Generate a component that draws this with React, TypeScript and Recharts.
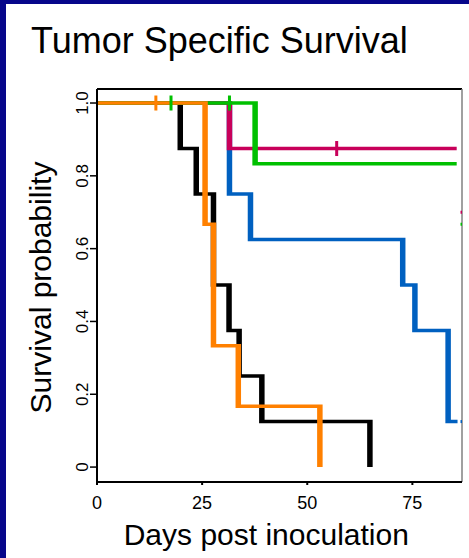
import React from 'react';
import { ComposedChart, Line, Scatter, XAxis, YAxis, ReferenceLine } from 'recharts';

// Axis extents and ticks
const X_MAX = 86.8;
const Y_MIN = -0.041;
const Y_MAX = 1.0385;
const xTicks = [0, 25, 50, 75];
const yTicks = [0, 0.2, 0.4, 0.6, 0.8, 1];
const yTickLabels = ['0', '0.2', '0.4', '0.6', '0.8', '1.0'];

// Kaplan-Meier steps: t = days post inoculation, s = survival probability
const blackCurve = [
  { t: 0, s: 1 },
  { t: 19.8, s: 0.875 },
  { t: 23.6, s: 0.75 },
  { t: 27.7, s: 0.5 },
  { t: 31.4, s: 0.375 },
  { t: 33.8, s: 0.25 },
  { t: 39.2, s: 0.125 },
  { t: 64.9, s: 0 },
];
const blueCurve = [
  { t: 0, s: 1 },
  { t: 31.5, s: 0.75 },
  { t: 36.5, s: 0.625 },
  { t: 72.7, s: 0.5 },
  { t: 75.6, s: 0.375 },
  { t: 83.5, s: 0.125 },
  { t: 85.5, s: 0.125 },
];
const magentaCurve = [
  { t: 0, s: 1 },
  { t: 31.5, s: 0.875 },
  { t: 85.3, s: 0.875 },
];
const greenCurve = [
  { t: 0, s: 1 },
  { t: 37.6, s: 0.833 },
  { t: 85.3, s: 0.833 },
];
const orangeCurve = [
  { t: 0, s: 1 },
  { t: 25.7, s: 0.667 },
  { t: 27.7, s: 0.333 },
  { t: 33.6, s: 0.167 },
  { t: 53.0, s: 0 },
];

// Censoring ticks
const orangeCensor = [{ t: 14.0, s: 1 }];
const greenCensor = [
  { t: 17.6, s: 1 },
  { t: 31.5, s: 1 },
];
const magentaCensor = [{ t: 57.0, s: 0.875 }];

// Small marks sitting on the right frame
const edgeMarks = [
  { t: X_MAX, s: 0.7, c: '#c8005a' },
  { t: X_MAX, s: 0.667, c: '#00c000' },
  { t: X_MAX, s: 0.125, c: '#0060c0' },
];

const COLORS = {
  black: '#000000',
  blue: '#0060c0',
  magenta: '#c8005a',
  green: '#00c000',
  orange: '#ff8000',
};

const FONT = '"Liberation Sans", Arial, sans-serif';

const XTick = (props: any) => {
  const { x, y, payload } = props;
  return (
    <text x={x} y={y + 22} textAnchor="middle" fontFamily={FONT} fontSize={18} fill="#000">
      {payload.value}
    </text>
  );
};

const YTick = (props: any) => {
  const { x, y, payload } = props;
  const idx = yTicks.indexOf(payload.value);
  return (
    <text
      x={x}
      y={y}
      transform={`rotate(-90 ${x} ${y})`}
      textAnchor="middle"
      fontFamily={FONT}
      fontSize={17}
      fill="#000"
    >
      {idx >= 0 ? yTickLabels[idx] : payload.value}
    </text>
  );
};

const censorShape = (color: string) => (p: any) => (
  <rect x={p.cx - 1.5} y={p.cy - 7.5} width={3} height={15} fill={color} />
);

const edgeShape = (p: any) => (
  <rect x={p.cx - 1.5} y={p.cy - 1.5} width={3.5} height={3} fill={p.payload.c} />
);

const stepProps = {
  type: 'stepAfter' as const,
  dataKey: 's',
  strokeWidth: 3.5,
  dot: false,
  activeDot: false,
  isAnimationActive: false,
  className: 'km-line',
};

export default function App() {
  return (
    <div style={{ position: 'absolute', left: 0, top: 0, width: 469, height: 558, background: '#fff', overflow: 'hidden' }}>
      <style>{`.km-line { filter: url(#widenX); }`}</style>
      <svg width={0} height={0} style={{ position: 'absolute' }}>
        <defs>
          <filter id="widenX" filterUnits="userSpaceOnUse" x={0} y={0} width={469} height={558}>
            <feMorphology operator="dilate" radius="1 0" />
          </filter>
        </defs>
      </svg>
      <div style={{ position: 'absolute', left: 0, top: 0, width: 6, height: 558, background: '#06068a' }} />
      <div style={{ position: 'absolute', left: 0, top: 0, width: 469, height: 4, background: '#06068a' }} />
      <div style={{ position: 'absolute', left: 0, top: 0 }}>
        <ComposedChart width={469} height={558} margin={{ top: 89, right: 7, bottom: 46, left: 60 }}>
          <XAxis
            type="number"
            dataKey="t"
            domain={[0, X_MAX]}
            ticks={xTicks}
            interval={0}
            allowDataOverflow
            height={30}
            axisLine={{ stroke: '#000', strokeWidth: 2 }}
            tickLine={{ stroke: '#000', strokeWidth: 2 }}
            tickSize={3}
            tick={<XTick />}
          />
          <YAxis
            type="number"
            dataKey="s"
            domain={[Y_MIN, Y_MAX]}
            ticks={yTicks}
            interval={0}
            allowDataOverflow
            width={37}
            axisLine={{ stroke: '#000', strokeWidth: 2 }}
            tickLine={{ stroke: '#000', strokeWidth: 1.5 }}
            tickSize={7}
            tick={<YTick />}
          />
          <ReferenceLine y={Y_MAX} stroke="#000" strokeWidth={2} ifOverflow="visible" />
          <ReferenceLine x={X_MAX} stroke="#808080" strokeWidth={1.5} ifOverflow="visible" />
          <Line {...stepProps} data={blackCurve} stroke={COLORS.black} />
          <Line {...stepProps} data={blueCurve} stroke={COLORS.blue} />
          <Line {...stepProps} data={magentaCurve} stroke={COLORS.magenta} />
          <Line {...stepProps} data={greenCurve} stroke={COLORS.green} />
          <Line {...stepProps} data={orangeCurve} stroke={COLORS.orange} />
          <Scatter data={orangeCensor} dataKey="s" shape={censorShape(COLORS.orange)} isAnimationActive={false} />
          <Scatter data={greenCensor} dataKey="s" shape={censorShape(COLORS.green)} isAnimationActive={false} />
          <Scatter data={magentaCensor} dataKey="s" shape={censorShape(COLORS.magenta)} isAnimationActive={false} />
          <Scatter data={edgeMarks} dataKey="s" shape={edgeShape} isAnimationActive={false} />
        </ComposedChart>
      </div>
      <svg width={469} height={558} style={{ position: 'absolute', left: 0, top: 0, pointerEvents: 'none' }}>
        <text x={31} y={53} fontFamily={FONT} fontSize={36} fill="#000">
          Tumor Specific Survival
        </text>
        <text
          x={51}
          y={287.5}
          transform="rotate(-90 51 287.5)"
          textAnchor="middle"
          fontFamily={FONT}
          fontSize={30}
          fill="#000"
        >
          Survival probability
        </text>
        <text x={266.3} y={545} textAnchor="middle" fontFamily={FONT} fontSize={30} fill="#000">
          Days post inoculation
        </text>
      </svg>
    </div>
  );
}
